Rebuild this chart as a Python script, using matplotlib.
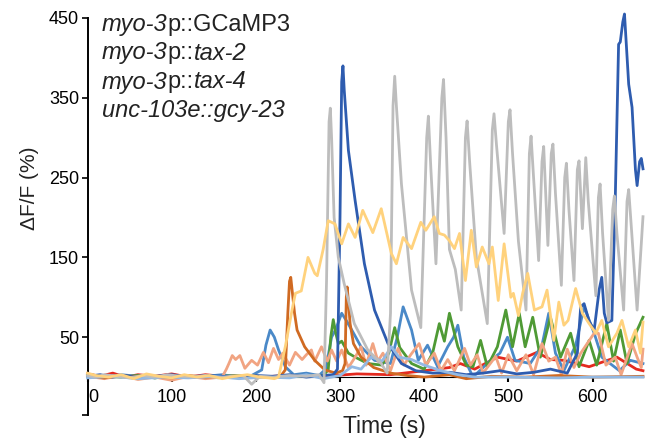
import matplotlib
matplotlib.use('Agg')
import matplotlib.pyplot as plt
import matplotlib.transforms as mtransforms

plt.rcParams['font.family'] = ['Liberation Sans', 'DejaVu Sans']

# (time s, dF/F %)
gray = [(0, 2), (10, 0), (20, 3), (35, 1), (50, -1), (65, 2), (80, 0), (95, 3), (110, 1), (125, 0),
        (140, 2), (155, -1), (170, 1), (185, 2), (195, -9), (205, 1), (220, 0), (240, 2), (260, 1),
        (275, 3), (281, -7), (284, 120), (287, 320), (288.5, 337), (290, 300), (293, 200), (298, 150),
        (305, 117), (317, 67), (333, 34), (349, 17), (356, 5), (360, 80), (363, 340), (365, 377),
        (367, 340), (373, 242), (385, 109), (396, 62), (403, 300), (405, 327), (408, 260), (414, 142),
        (421, 350), (423, 373), (426, 300), (430, 160), (437, 135), (444, 84), (449, 300), (451, 321),
        (454, 270), (462, 150), (475, 67), (481, 310), (483, 330), (486, 290), (495, 180), (500, 320),
        (502, 335), (505, 280), (512, 170), (521, 84), (525, 280), (527, 302), (530, 250), (536, 146),
        (540, 270), (542, 289), (544, 240), (547, 165), (551, 280), (553, 292), (556, 230), (563, 115),
        (567, 250), (569, 268), (572, 210), (578, 121), (582, 260), (584, 271), (588, 186), (592, 275),
        (595, 220), (604, 102), (607, 225), (609, 242), (612, 180), (619, 71), (624, 210), (626, 227),
        (629, 180), (637, 84), (641, 220), (643, 235), (646, 190), (653, 84), (660, 201)]

dark_blue = [(0, 1), (15, 3), (30, 0), (45, 2), (60, -1), (80, 1), (100, 3), (120, 0), (140, 2),
             (160, 1), (180, 0), (200, 2), (220, 1), (240, 3), (260, 0), (280, 2), (292, 3), (297, 10),
             (300, 200), (302, 370), (303.5, 390), (305, 360), (310, 284), (318, 221), (329, 142),
             (341, 84), (357, 42), (373, 17), (390, 8), (410, 5), (430, 6), (450, 3), (470, 5),
             (490, 8), (510, 4), (530, 6), (550, 10), (570, 5), (582, 30), (586, 88), (590, 92),
             (596, 70), (602, 59), (608, 110), (611, 125), (614, 80), (617, 68), (623, 71), (627, 221),
             (631, 417), (633, 420), (636, 445), (638, 455), (640, 420), (643, 367), (647, 338),
             (651, 260), (653, 240), (656, 270), (658, 274), (660, 261)]

light_orange = [(0, 5), (10, 2), (25, 0), (40, 3), (55, -2), (70, 4), (85, 1), (100, -1), (115, 3),
                (130, 0), (145, 2), (160, -2), (175, 1), (190, 3), (205, 0), (215, -1), (222, -2),
                (227, 0), (235, 38), (243, 84), (247, 105), (254, 108), (262, 150), (270, 130),
                (273, 127), (280, 160), (286, 196), (294, 192), (302, 167), (310, 192), (318, 175),
                (327, 209), (339, 181), (349, 211), (361, 155), (367, 142), (375, 175), (385, 161),
                (396, 194), (402, 184), (412, 201), (418, 180), (424, 178), (430, 171), (436, 161),
                (442, 180), (449, 121), (456, 184), (462, 138), (469, 163), (477, 142), (481, 163),
                (488, 96), (495, 167), (503, 100), (506, 105), (512, 77), (517, 105), (523, 130),
                (531, 84), (540, 88), (546, 109), (554, 46), (560, 94), (566, 65), (571, 71),
                (580, 111), (588, 80), (596, 67), (604, 55), (611, 71), (619, 38), (629, 55),
                (635, 71), (643, 38), (651, 59), (657, 30), (660, 69)]

orange = [(0, 1), (20, -1), (40, 2), (60, 0), (80, 1), (100, -1), (120, 2), (140, 0), (160, 1),
          (180, -1), (200, 1), (220, 0), (230, 2), (235, 9), (238, 80), (240, 120), (241.5, 125),
          (243, 110), (246, 80), (249, 59), (258, 38), (270, 21), (282, 9), (295, 5), (303, 8),
          (306, 17), (307.5, 100), (308.5, 113), (310, 95), (312, 67), (316, 42), (325, 25), (340, 12),
          (360, 5), (380, 2), (400, 0), (430, 3), (450, -2), (480, 1), (520, 0), (560, 2), (600, 0),
          (660, 1)]

mid_blue = [(0, 2), (20, 0), (40, 3), (60, 1), (80, -1), (100, 2), (120, 0), (140, 1), (160, 3),
            (180, 0), (195, 2), (207, 9), (212, 40), (217, 59), (222, 50), (227, 34), (235, 13),
            (245, 3), (260, 5), (275, 2), (283, 10), (290, 50), (295, 60), (302, 80), (308, 70),
            (314, 59), (325, 38), (341, 21), (360, 17), (368, 50), (375, 88), (385, 59), (393, 21),
            (404, 40), (416, 13), (428, 38), (435, 50), (440, 65), (447, 25), (458, 0), (479, 21),
            (490, 30), (499, 50), (508, 21), (526, 17), (540, 40), (548, 80), (556, 30), (566, 8),
            (580, 40), (590, 88), (602, 55), (611, 25), (632, 8), (645, 21), (660, 17)]

green = [(0, 3), (20, 1), (40, 0), (60, 2), (80, -1), (100, 1), (140, 0), (180, 2), (220, 0),
         (260, 1), (280, 2), (286, 9), (289, 50), (292, 72), (295, 55), (298, 42), (302, 45),
         (310, 30), (318, 25), (333, 17), (350, 15), (358, 30), (365, 62), (371, 37), (385, 17),
         (400, 10), (410, 30), (418, 67), (424, 45), (430, 80), (440, 38), (450, 15), (458, 13),
         (467, 46), (475, 13), (487, 38), (497, 84), (505, 38), (513, 80), (520, 38), (529, 75),
         (538, 25), (550, 75), (562, 25), (574, 55), (584, 13), (596, 46), (605, 15), (617, 67),
         (625, 20), (633, 59), (641, 17), (651, 54), (660, 75)]

red = [(0, 4), (15, 1), (30, 5), (45, 0), (60, 3), (80, 1), (100, 4), (120, 0), (140, 3), (160, 1),
       (180, 2), (200, 0), (240, 2), (280, 1), (320, 4), (360, 3), (400, 8), (430, 12), (443, 17),
       (460, 10), (487, 25), (510, 20), (534, 31), (550, 22), (566, 21), (596, 13), (615, 20),
       (629, 25), (652, 10), (660, 8)]

salmon = [(0, 1), (20, -2), (40, 2), (60, -3), (80, 0), (100, -4), (120, 1), (140, -2), (160, 0),
          (165, 10), (168, 17), (172, 27), (176, 22), (181, 27), (187, 11), (195, 21), (202, 15),
          (209, 31), (215, 18), (221, 36), (227, 22), (232, 30), (240, 15), (247, 31), (255, 22),
          (260, 28), (266, 34), (270, 20), (278, 38), (285, 20), (290, 34), (296, 20), (302, 34),
          (310, 12), (318, 25), (325, 38), (331, 15), (339, 42), (345, 20), (351, 30), (360, 8),
          (369, 36), (376, 15), (384, 28), (394, 42), (402, 15), (412, 30), (420, 8), (428, 22),
          (436, 8), (448, 36), (455, 15), (463, 28), (470, 5), (485, 26), (492, 5), (500, 28),
          (510, 8), (521, 28), (530, 3), (540, 42), (548, 20), (556, 25), (563, 3), (570, 35),
          (578, 12), (586, 30), (602, 55), (607, 55), (616, 15), (627, 25), (634, 3), (647, 42),
          (653, 25), (658, 12), (660, 35)]

light_blue = [(0, -1), (30, 1), (60, -2), (90, 0), (120, -1), (150, 1), (180, -2), (210, 0),
              (240, -1), (260, 3), (280, -2), (300, 2), (314, 13), (325, 10), (337, 25), (350, 20),
              (361, 38), (370, 25), (385, 22), (400, 15), (420, 8), (440, 3), (460, 0), (500, 0),
              (560, -1), (600, 0), (660, 0)]

traces = [
    (red, '#e42a1f'),
    (mid_blue, '#4a89c8'),
    (green, '#4f9a35'),
    (salmon, '#f1a482'),
    (orange, '#d06a22'),
    (dark_blue, '#2e5caf'),
    (light_blue, '#93b9e3'),
    (gray, '#bdbdbd'),
    (light_orange, '#ffd27d'),
]

W, H = 659, 444
fig = plt.figure(figsize=(W / 100, H / 100), dpi=100)
ax = fig.add_axes([87.5 / W, 29 / H, 555.5 / W, 397 / H])

for data, col in traces:
    t = [p[0] for p in data]
    v = [p[1] for p in data]
    ax.plot(t, v, color=col, lw=2, solid_joinstyle='round', clip_on=False, zorder=3)

ymin = -47.5
ax.set_xlim(3, 660)
ax.set_ylim(ymin, 450)

ax.spines['top'].set_visible(False)
ax.spines['right'].set_visible(False)
ax.spines['bottom'].set_position(('data', 0))
ax.spines['bottom'].set_linewidth(0.8)
ax.spines['left'].set_linewidth(1.4)

ax.set_xticks([0, 100, 200, 300, 400, 500, 600])
ax.set_yticks([50, 150, 250, 350, 450])
ax.set_yticks([ymin], minor=True)
ax.tick_params(axis='x', direction='out', length=3.5, width=1.5, pad=5, labelsize=13)
ax.tick_params(axis='y', which='both', direction='out', length=4, width=1.2, pad=2, labelsize=13)

# nudge the "0" label right of the spine
lab0 = ax.get_xticklabels()[0]
lab0.set_transform(lab0.get_transform() + mtransforms.ScaledTranslation(6 / 100, 0, fig.dpi_scale_trans))

ax.set_xlabel('Time (s)', fontsize=16.5, color='#222222')
ax.xaxis.set_label_coords(0.535, 0.0)
ax.set_ylabel('ΔF/F (%)', fontsize=15, color='#222222')
ax.yaxis.set_label_coords(-0.088, 0.572)

# genotype lines with mixed italic
lines = [
    [('myo-3', 'italic'), ('p::GCaMP3', 'normal')],
    [('myo-3', 'italic'), ('p::', 'normal'), ('tax-2', 'italic')],
    [('myo-3', 'italic'), ('p::', 'normal'), ('tax-4', 'italic')],
    [('unc-103e::gcy-23', 'italic')],
]
centers = [25, 53, 82, 110]
renderer = fig.canvas.get_renderer()
for parts, yc in zip(lines, centers):
    x = 102
    for s, st in parts:
        txt = fig.text(x / W, 1 - yc / H, s, fontsize=17, style=st, va='center', ha='left',
                       color='#222222')
        bb = txt.get_window_extent(renderer=renderer)
        x += bb.width

fig.savefig('out.png', dpi=100)
